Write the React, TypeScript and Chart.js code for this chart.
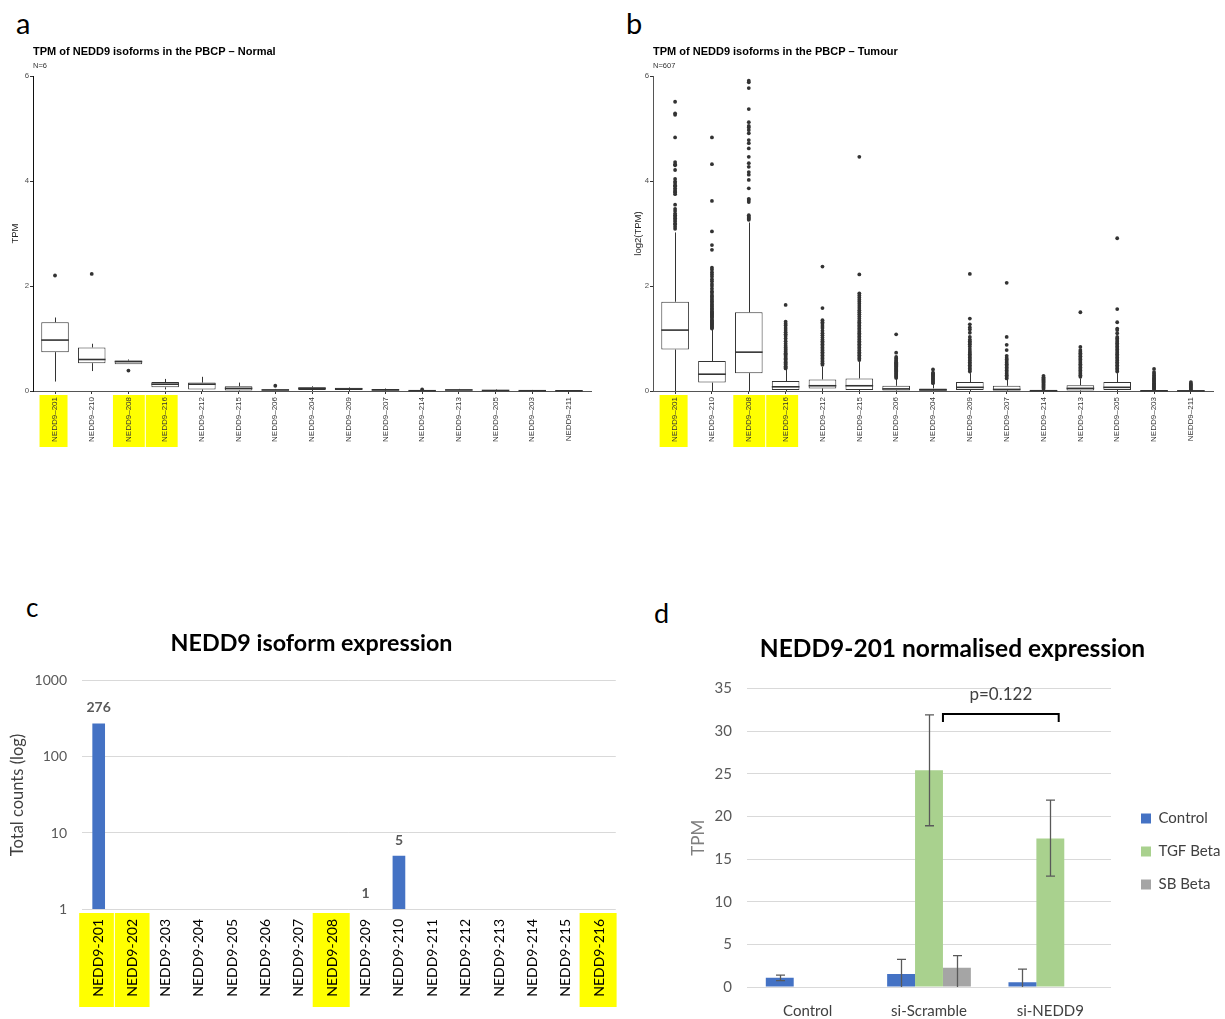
import React, { useEffect, useRef } from "react";
import { Chart, registerables } from "chart.js";

Chart.register(...registerables);

const AB_FONT = "'Liberation Sans', Arial, sans-serif";
const XL_FONT = "Lato, 'Open Sans', sans-serif";

// ---------------- Panels a & b : boxplots ----------------
const isoformsAB = [
  "NEDD9–201", "NEDD9–210", "NEDD9–208", "NEDD9–216", "NEDD9–212",
  "NEDD9–215", "NEDD9–206", "NEDD9–204", "NEDD9–209", "NEDD9–207",
  "NEDD9–214", "NEDD9–213", "NEDD9–205", "NEDD9–203", "NEDD9–211",
];
const highlightAB = [0, 2, 3];
const yTicksAB = [0, 2, 4, 6];

// Normal (N=6)
const normalQ1 = [0.74, 0.53, 0.51, 0.07, 0.03, 0.01, 0.0, 0.02, 0.02, 0.01, 0.0, 0.0, 0.0, 0.0, 0.0];
const normalMedian = [0.97, 0.6, 0.56, 0.13, 0.13, 0.05, 0.02, 0.05, 0.04, 0.02, 0.005, 0.02, 0.01, 0.005, 0.004];
const normalQ3 = [1.31, 0.83, 0.58, 0.17, 0.16, 0.09, 0.03, 0.07, 0.06, 0.04, 0.012, 0.03, 0.02, 0.01, 0.008];
const normalLow = [0.18, 0.38, 0.51, 0.03, 0.0, 0.0, 0.0, 0.0, 0.0, 0.0, 0.0, 0.0, 0.0, 0.0, 0.0];
const normalHigh = [1.4, 0.9, 0.6, 0.23, 0.27, 0.16, 0.04, 0.09, 0.07, 0.05, 0.02, 0.04, 0.03, 0.02, 0.01];
const normalOutliers: number[][] = [[2.2], [2.23], [0.39], [], [], [], [0.1], [], [], [], [0.03], [], [], [], []];

// Tumour (N=607)
const tumourQ1 = [0.79, 0.16, 0.34, 0.02, 0.05, 0.02, 0.01, 0.01, 0.02, 0.01, 0.0, 0.01, 0.02, 0.0, 0.0];
const tumourMedian = [1.16, 0.32, 0.74, 0.08, 0.1, 0.1, 0.04, 0.02, 0.07, 0.03, 0.005, 0.05, 0.07, 0.004, 0.003];
const tumourQ3 = [1.7, 0.57, 1.5, 0.19, 0.22, 0.24, 0.1, 0.05, 0.17, 0.1, 0.012, 0.11, 0.17, 0.012, 0.008];
const tumourLow = [0, 0, 0, 0, 0, 0, 0, 0, 0, 0, 0, 0, 0, 0, 0];
const tumourHigh = [3.02, 1.17, 3.21, 0.41, 0.46, 0.56, 0.23, 0.14, 0.34, 0.22, 0.03, 0.24, 0.34, 0.03, 0.02];
const tumourOutliers: number[][] = [
  [3.09, 3.13, 3.17, 3.19, 3.23, 3.26, 3.29, 3.32, 3.35, 3.38, 3.43, 3.47, 3.55, 3.75, 3.78, 3.8, 3.83, 3.86, 3.9, 3.92, 3.96, 3.99, 4.04, 4.21, 4.3, 4.32, 4.36, 4.83, 5.26, 5.29, 5.51],
  [1.19, 1.21, 1.23, 1.25, 1.27, 1.29, 1.31, 1.33, 1.35, 1.37, 1.4, 1.42, 1.44, 1.46, 1.48, 1.5, 1.52, 1.55, 1.57, 1.6, 1.62, 1.65, 1.68, 1.71, 1.74, 1.77, 1.8, 1.83, 1.87, 1.9, 1.95, 2.0, 2.04, 2.09, 2.13, 2.18, 2.22, 2.26, 2.31, 2.35, 2.69, 2.78, 3.04, 3.62, 4.32, 4.83],
  [3.26, 3.28, 3.3, 3.32, 3.35, 3.6, 3.64, 3.66, 3.86, 4.02, 4.12, 4.17, 4.27, 4.34, 4.46, 4.62, 4.72, 4.78, 4.91, 4.97, 5.02, 5.05, 5.12, 5.37, 5.77, 5.88, 5.91],
  [0.43, 0.45, 0.47, 0.5, 0.52, 0.55, 0.57, 0.6, 0.62, 0.65, 0.67, 0.7, 0.72, 0.75, 0.78, 0.8, 0.83, 0.86, 0.9, 0.95, 1.0, 1.05, 1.08, 1.12, 1.16, 1.2, 1.25, 1.28, 1.32, 1.64],
  [0.5, 0.53, 0.56, 0.59, 0.62, 0.65, 0.68, 0.71, 0.74, 0.77, 0.8, 0.83, 0.86, 0.89, 0.92, 0.95, 0.98, 1.02, 1.06, 1.1, 1.15, 1.2, 1.24, 1.28, 1.31, 1.35, 1.58, 2.37],
  [0.59, 0.62, 0.65, 0.68, 0.71, 0.74, 0.77, 0.8, 0.83, 0.86, 0.89, 0.92, 0.95, 0.98, 1.01, 1.04, 1.07, 1.1, 1.13, 1.16, 1.19, 1.22, 1.25, 1.28, 1.31, 1.34, 1.38, 1.42, 1.46, 1.5, 1.54, 1.58, 1.62, 1.66, 1.7, 1.74, 1.78, 1.82, 1.86, 2.22, 4.46],
  [0.25, 0.27, 0.29, 0.31, 0.33, 0.35, 0.37, 0.39, 0.41, 0.43, 0.45, 0.47, 0.49, 0.51, 0.53, 0.55, 0.57, 0.59, 0.62, 0.65, 0.73, 1.08],
  [0.15, 0.17, 0.19, 0.21, 0.23, 0.25, 0.27, 0.29, 0.31, 0.33, 0.35, 0.41],
  [0.37, 0.4, 0.43, 0.46, 0.49, 0.52, 0.55, 0.58, 0.61, 0.64, 0.67, 0.7, 0.73, 0.76, 0.8, 0.85, 0.89, 0.92, 0.95, 0.98, 1.03, 1.11, 1.17, 1.21, 1.27, 1.38, 2.23],
  [0.24, 0.27, 0.3, 0.33, 0.36, 0.39, 0.42, 0.45, 0.48, 0.51, 0.54, 0.57, 0.6, 0.63, 0.67, 0.78, 0.88, 1.03, 2.06],
  [0.04, 0.06, 0.08, 0.1, 0.12, 0.14, 0.16, 0.18, 0.2, 0.22, 0.24, 0.26, 0.29],
  [0.27, 0.3, 0.33, 0.36, 0.39, 0.42, 0.45, 0.48, 0.51, 0.54, 0.57, 0.6, 0.63, 0.66, 0.69, 0.72, 0.75, 0.78, 0.84, 1.5],
  [0.37, 0.4, 0.43, 0.46, 0.49, 0.52, 0.55, 0.58, 0.61, 0.64, 0.67, 0.7, 0.73, 0.76, 0.79, 0.82, 0.85, 0.88, 0.91, 0.94, 0.97, 1.0, 1.03, 1.1, 1.16, 1.19, 1.31, 1.56, 2.91],
  [0.03, 0.05, 0.07, 0.09, 0.11, 0.13, 0.15, 0.17, 0.19, 0.21, 0.23, 0.25, 0.27, 0.3, 0.33, 0.36, 0.42],
  [0.02, 0.04, 0.06, 0.08, 0.1, 0.12, 0.14, 0.17],
];

// ---------------- Panel c : isoform counts (log) ----------------
const isoformsC = [
  "NEDD9-201", "NEDD9-202", "NEDD9-203", "NEDD9-204", "NEDD9-205", "NEDD9-206",
  "NEDD9-207", "NEDD9-208", "NEDD9-209", "NEDD9-210", "NEDD9-211", "NEDD9-212",
  "NEDD9-213", "NEDD9-214", "NEDD9-215", "NEDD9-216",
];
const countsC: (number | null)[] = [276, null, null, null, null, null, null, null, 1, 5, null, null, null, null, null, null];
const highlightC = [0, 1, 7, 15];
const yTicksC = [1, 10, 100, 1000];

// ---------------- Panel d : NEDD9-201 normalised expression ----------------
const groupsD = ["Control", "si-Scramble", "si-NEDD9"];
const controlTPM: (number | null)[] = [1.07, 1.52, 0.55];
const tgfTPM: (number | null)[] = [null, 25.4, 17.4];
const sbTPM: (number | null)[] = [null, 2.26, null];
const controlErrPlus: (number | null)[] = [0.33, 1.72, 1.55];
const controlErrMinus: (number | null)[] = [0.33, 1.72, 1.55];
const tgfErrPlus: (number | null)[] = [null, 6.5, 4.5];
const tgfErrMinus: (number | null)[] = [null, 6.5, 4.4];
const sbErrPlus: (number | null)[] = [null, 1.41, null];
const sbErrMinus: (number | null)[] = [null, 2.4, null];
const pValueText = "p=0.122";
const bracketValue = 32.0;

// ---------------- helpers ----------------
function makeHighlightPlugin(indices: number[], halfW: number, dx: number, y0: number, y1: number) {
  return {
    id: "labelHighlight",
    beforeDraw(chart: any) {
      const { ctx, chartArea } = chart;
      const x = chart.scales.x;
      ctx.save();
      ctx.fillStyle = "#FFFF00";
      indices.forEach((idx) => {
        const cx = x.getPixelForValue(idx) + dx;
        let l = cx - halfW;
        let r = cx + halfW;
        if (indices.includes(idx - 1)) l = (cx + x.getPixelForValue(idx - 1) + dx) / 2 + 0.5;
        if (indices.includes(idx + 1)) r = (cx + x.getPixelForValue(idx + 1) + dx) / 2 - 0.5;
        ctx.fillRect(l, chartArea.bottom + y0, r - l, y1 - y0);
      });
      ctx.restore();
    },
  };
}

type BoxInput = {
  q1: number[]; median: number[]; q3: number[]; low: number[]; high: number[]; outliers: number[][];
  title: string; subtitle: string; yTitle: string; yTitlePad: number; padRight: number; yAxisColor: string;
};

function makeBoxConfig(p: BoxInput): any {
  const boxes = p.q1.map((v, i) => ({ x: i, y: [v, p.q3[i]] }));
  const pts = p.outliers.flatMap((arr, i) => arr.map((v) => ({ x: i, y: v })));
  const boxPlugin = {
    id: "boxWhisker",
    afterDatasetsDraw(chart: any) {
      const { ctx } = chart;
      const x = chart.scales.x;
      const y = chart.scales.y;
      const meta = chart.getDatasetMeta(0);
      ctx.save();
      ctx.strokeStyle = "#333";
      p.q1.forEach((_, i) => {
        const el = meta.data[i];
        const cx = Math.round(x.getPixelForValue(i)) + 0.5;
        ctx.lineWidth = 1;
        ctx.beginPath();
        ctx.moveTo(cx, y.getPixelForValue(p.low[i]));
        ctx.lineTo(cx, y.getPixelForValue(p.q1[i]));
        ctx.moveTo(cx, y.getPixelForValue(p.q3[i]));
        ctx.lineTo(cx, y.getPixelForValue(p.high[i]));
        ctx.stroke();
        const hw = el.width / 2;
        const my = y.getPixelForValue(p.median[i]);
        ctx.lineWidth = 1.6;
        ctx.beginPath();
        ctx.moveTo(el.x - hw, my);
        ctx.lineTo(el.x + hw, my);
        ctx.stroke();
      });
      ctx.restore();
    },
  };
  const titlePlugin = {
    id: "ggTitle",
    afterDraw(chart: any) {
      const { ctx, chartArea } = chart;
      ctx.save();
      ctx.textAlign = "left";
      ctx.textBaseline = "middle";
      ctx.fillStyle = "#000";
      ctx.font = `bold 11px ${AB_FONT}`;
      ctx.fillText(p.title, chartArea.left, chartArea.top - 24);
      ctx.fillStyle = "#333";
      ctx.font = `7.5px ${AB_FONT}`;
      ctx.fillText(p.subtitle, chartArea.left, chartArea.top - 10);
      ctx.restore();
    },
  };
  return {
    type: "bar",
    data: {
      datasets: [
        {
          type: "bar",
          data: boxes,
          backgroundColor: "#ffffff",
          borderColor: "#333",
          borderWidth: 1,
          borderSkipped: false,
          barPercentage: 0.75,
          categoryPercentage: 1,
        },
        {
          type: "scatter",
          data: pts,
          pointRadius: 1.9,
          pointBackgroundColor: "#333",
          pointBorderWidth: 0,
        },
      ],
    },
    options: {
      animation: false,
      responsive: false,
      layout: { padding: { top: 46, right: p.padRight, left: 0, bottom: 0 } },
      plugins: { legend: { display: false }, tooltip: { enabled: false }, title: { display: false } },
      scales: {
        x: {
          type: "linear",
          offset: false,
          min: -0.6,
          max: 14.6,
          afterBuildTicks: (s: any) => {
            s.ticks = isoformsAB.map((_, i) => ({ value: i }));
          },
          afterFit: (s: any) => {
            s.height = 69;
          },
          grid: { offset: false, drawOnChartArea: false, drawTicks: true, tickLength: 3, color: "#333" },
          border: { color: "#555", width: 1 },
          ticks: {
            autoSkip: false,
            minRotation: 90,
            maxRotation: 90,
            padding: 3,
            color: "#333",
            font: { family: AB_FONT, size: 8 },
            callback: (v: number) => isoformsAB[Math.round(v)] ?? "",
          },
        },
        y: {
          min: 0,
          max: 6,
          afterBuildTicks: (s: any) => {
            s.ticks = yTicksAB.map((v) => ({ value: v }));
          },
          afterFit: (s: any) => {
            s.width = 33;
          },
          grid: { drawOnChartArea: false, drawTicks: true, tickLength: 3, color: "#333" },
          border: { color: p.yAxisColor, width: 1 },
          ticks: { padding: 1, color: "#4d4d4d", font: { family: AB_FONT, size: 7.8 } },
          title: {
            display: true,
            text: p.yTitle,
            color: "#222",
            font: { family: AB_FONT, size: 9.5 },
            padding: { top: p.yTitlePad, bottom: 0 },
          },
        },
      },
    },
    plugins: [boxPlugin, titlePlugin, makeHighlightPlugin(highlightAB, 14, -1.5, 4, 56)],
  };
}

function makeCountsConfig(): any {
  const valueLabels = {
    id: "valueLabels",
    afterDatasetsDraw(chart: any) {
      const { ctx } = chart;
      const meta = chart.getDatasetMeta(0);
      ctx.save();
      ctx.font = `bold 14px ${XL_FONT}`;
      ctx.fillStyle = "#595959";
      ctx.textAlign = "center";
      ctx.textBaseline = "alphabetic";
      countsC.forEach((v, i) => {
        if (v == null) return;
        const el = meta.data[i];
        ctx.fillText(String(v), el.x, el.y - 11);
      });
      ctx.restore();
    },
  };
  return {
    type: "bar",
    data: {
      labels: isoformsC,
      datasets: [
        { data: countsC, backgroundColor: "#4472C4", barPercentage: 0.38, categoryPercentage: 1 },
      ],
    },
    options: {
      animation: false,
      responsive: false,
      layout: { padding: { top: 0, right: 3, left: 0, bottom: 0 } },
      plugins: {
        legend: { display: false },
        tooltip: { enabled: false },
        title: {
          display: true,
          text: "NEDD9 isoform expression",
          color: "#000",
          font: { family: XL_FONT, size: 23.3, weight: "bold" },
          padding: { top: 29, bottom: 24 },
        },
      },
      scales: {
        x: {
          afterFit: (s: any) => {
            s.height = 110;
          },
          grid: { display: false, drawTicks: false },
          border: { display: false },
          ticks: {
            autoSkip: false,
            minRotation: 90,
            maxRotation: 90,
            padding: 10,
            color: "#000",
            font: { family: XL_FONT, size: 14 },
          },
        },
        y: {
          type: "logarithmic",
          min: 1,
          max: 1000,
          afterBuildTicks: (s: any) => {
            s.ticks = yTicksC.map((v) => ({ value: v }));
          },
          afterFit: (s: any) => {
            s.width = 82;
          },
          grid: { color: "#D9D9D9", drawTicks: false, lineWidth: 1 },
          border: { display: false },
          ticks: {
            padding: 15,
            color: "#595959",
            font: { family: XL_FONT, size: 14 },
            callback: (v: number) => String(v),
          },
          title: {
            display: true,
            text: "Total counts (log)",
            color: "#404040",
            font: { family: XL_FONT, size: 16.5 },
            padding: { top: 8, bottom: 0 },
          },
        },
      },
    },
    plugins: [valueLabels, makeHighlightPlugin(highlightC, 18.5, -1, 4, 98)],
  };
}

function makeExpressionConfig(): any {
  const series = [
    { values: tgfTPM, plus: tgfErrPlus, minus: tgfErrMinus, ds: 1 },
    { values: controlTPM, plus: controlErrPlus, minus: controlErrMinus, ds: 0 },
    { values: sbTPM, plus: sbErrPlus, minus: sbErrMinus, ds: 2 },
  ];
  const errorBars = {
    id: "errorBars",
    afterDatasetsDraw(chart: any) {
      const { ctx, chartArea } = chart;
      const y = chart.scales.y;
      ctx.save();
      ctx.beginPath();
      ctx.rect(chartArea.left, chartArea.top - 20, chartArea.width, chartArea.height + 20);
      ctx.clip();
      ctx.strokeStyle = "#595959";
      ctx.lineWidth = 1.3;
      series.forEach((s) => {
        const meta = chart.getDatasetMeta(s.ds);
        s.values.forEach((v, i) => {
          const pl = s.plus[i];
          const mi = s.minus[i];
          if (v == null || pl == null || mi == null) return;
          const el = meta.data[i];
          const x = Math.round(el.x) + 0.5;
          const yt = y.getPixelForValue(v + pl);
          const yb = y.getPixelForValue(v - mi);
          ctx.beginPath();
          ctx.moveTo(x, yt);
          ctx.lineTo(x, yb);
          ctx.moveTo(x - 4.5, yt);
          ctx.lineTo(x + 4.5, yt);
          ctx.moveTo(x - 4.5, yb);
          ctx.lineTo(x + 4.5, yb);
          ctx.stroke();
        });
      });
      ctx.restore();
    },
  };
  const bracket = {
    id: "pBracket",
    afterDatasetsDraw(chart: any) {
      const { ctx } = chart;
      const y = chart.scales.y;
      const meta = chart.getDatasetMeta(1);
      const a = meta.data[1];
      const b = meta.data[2];
      const x1 = a.x + a.width / 2;
      const x2 = b.x + b.width * 0.3;
      const yb = y.getPixelForValue(bracketValue);
      ctx.save();
      ctx.strokeStyle = "#000";
      ctx.lineWidth = 2;
      ctx.beginPath();
      ctx.moveTo(x1, yb + 8);
      ctx.lineTo(x1, yb);
      ctx.lineTo(x2, yb);
      ctx.lineTo(x2, yb + 8);
      ctx.stroke();
      ctx.fillStyle = "#404040";
      ctx.font = `17px ${XL_FONT}`;
      ctx.textAlign = "center";
      ctx.textBaseline = "alphabetic";
      ctx.fillText(pValueText, (x1 + x2) / 2, yb - 14);
      ctx.restore();
    },
  };
  return {
    type: "bar",
    data: {
      labels: groupsD,
      datasets: [
        { label: "Control", data: controlTPM, backgroundColor: "#4472C4", barPercentage: 1, categoryPercentage: 0.69 },
        { label: "TGF Beta", data: tgfTPM, backgroundColor: "#A9D18E", barPercentage: 1, categoryPercentage: 0.69 },
        { label: "SB Beta", data: sbTPM, backgroundColor: "#A5A5A5", barPercentage: 1, categoryPercentage: 0.69 },
      ],
    },
    options: {
      animation: false,
      responsive: false,
      layout: { padding: { top: 0, right: 0, left: 0, bottom: 0 } },
      plugins: {
        tooltip: { enabled: false },
        title: {
          display: true,
          text: "NEDD9-201 normalised expression",
          color: "#000",
          font: { family: XL_FONT, size: 24.5, weight: "bold" },
          padding: { top: 34, bottom: 25 },
        },
        legend: {
          position: "right",
          maxWidth: 102,
          title: { display: true, text: "", padding: { top: 72, bottom: 0 }, font: { size: 10 } },
          labels: {
            boxWidth: 10,
            boxHeight: 10,
            padding: 18,
            color: "#404040",
            font: { family: XL_FONT, size: 15 },
          },
        },
      },
      scales: {
        x: {
          afterFit: (s: any) => {
            s.height = 32;
          },
          grid: { display: false, drawTicks: false },
          border: { display: false },
          ticks: { padding: 15, color: "#404040", font: { family: XL_FONT, size: 15 } },
        },
        y: {
          min: 0,
          max: 35,
          ticks: { stepSize: 5, padding: 15, color: "#595959", font: { family: XL_FONT, size: 15 } },
          afterFit: (s: any) => {
            s.width = 67;
          },
          grid: { color: "#D9D9D9", drawTicks: false },
          border: { display: false },
          title: {
            display: true,
            text: "TPM",
            color: "#7F7F7F",
            font: { family: XL_FONT, size: 17 },
            padding: { top: 8, bottom: 0 },
          },
        },
        y2: {
          position: "right",
          min: 0,
          max: 1,
          grid: { display: false, drawTicks: false },
          border: { display: false },
          ticks: { display: false },
          afterFit: (s: any) => {
            s.width = 12;
          },
        },
      },
    },
    plugins: [errorBars, bracket],
  };
}

function ChartCanvas(props: { left: number; top: number; width: number; height: number; make: () => any }) {
  const ref = useRef<HTMLCanvasElement>(null);
  useEffect(() => {
    const chart = new Chart(ref.current as HTMLCanvasElement, props.make());
    return () => chart.destroy();
  }, []);
  return (
    <canvas
      ref={ref}
      width={props.width}
      height={props.height}
      style={{ position: "absolute", left: props.left, top: props.top, width: props.width, height: props.height }}
    />
  );
}

function Letter(props: { ch: string; left: number; top: number; size: number }) {
  return (
    <div
      style={{
        position: "absolute",
        left: props.left,
        top: props.top,
        fontFamily: XL_FONT,
        fontSize: props.size,
        lineHeight: 1,
        color: "#000",
      }}
    >
      {props.ch}
    </div>
  );
}

export default function App() {
  return (
    <div
      style={{
        position: "absolute",
        left: 0,
        top: 0,
        width: 1225,
        height: 1019,
        overflow: "hidden",
        background: "#fff",
      }}
    >
      <Letter ch="a" left={16} top={8} size={29} />
      <Letter ch="b" left={626} top={8} size={29} />
      <Letter ch="c" left={26} top={594} size={26} />
      <Letter ch="d" left={654} top={599} size={27} />
      <ChartCanvas
        left={0}
        top={30}
        width={600}
        height={430}
        make={() =>
          makeBoxConfig({
            q1: normalQ1, median: normalMedian, q3: normalQ3, low: normalLow, high: normalHigh, outliers: normalOutliers,
            title: "TPM of NEDD9 isoforms in the PBCP – Normal", subtitle: "N=6", yTitle: "TPM", yTitlePad: 10, padRight: 9, yAxisColor: "#111",
          })
        }
      />
      <ChartCanvas
        left={620}
        top={30}
        width={600}
        height={430}
        make={() =>
          makeBoxConfig({
            q1: tumourQ1, median: tumourMedian, q3: tumourQ3, low: tumourLow, high: tumourHigh, outliers: tumourOutliers,
            title: "TPM of NEDD9 isoforms in the PBCP – Tumour", subtitle: "N=607", yTitle: "log2(TPM)", yTitlePad: 13, padRight: 7, yAxisColor: "#555",
          })
        }
      />
      <ChartCanvas left={0} top={600} width={626} height={419} make={makeCountsConfig} />
      <ChartCanvas left={680} top={600} width={545} height={419} make={makeExpressionConfig} />
    </div>
  );
}
